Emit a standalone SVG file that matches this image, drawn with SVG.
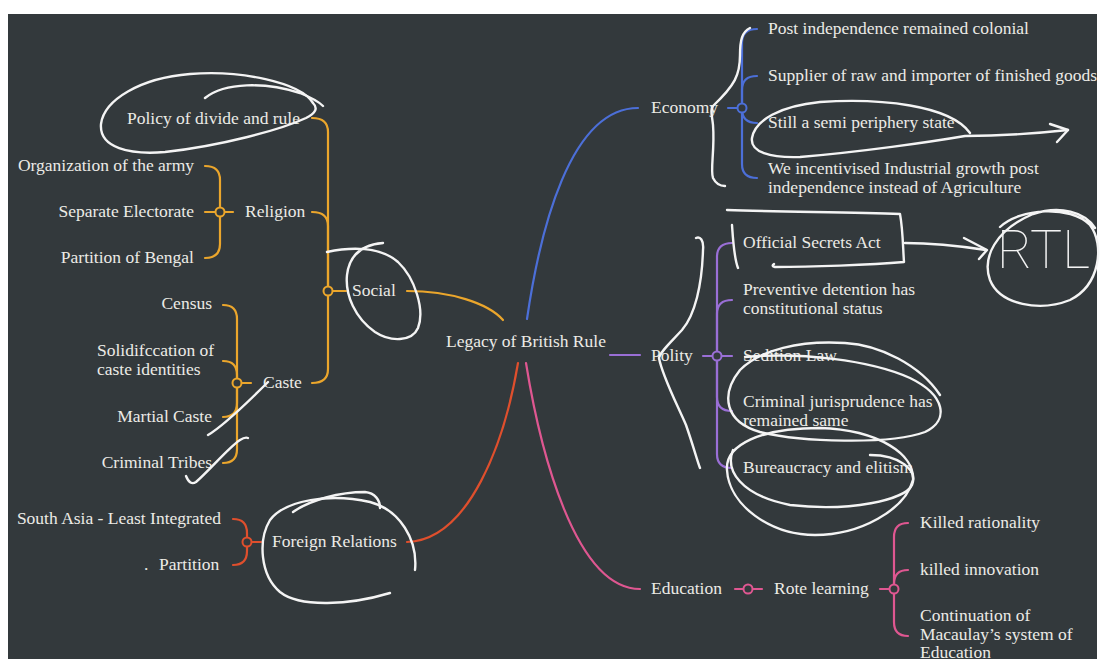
<svg xmlns="http://www.w3.org/2000/svg" width="1103" height="659" viewBox="0 0 1103 659">
  <style>
    .t { font-family: "Liberation Serif", "DejaVu Serif", serif; font-size: 17.5px; fill: #ecebe6; }
    .e { text-anchor: end; }
    .ln { fill: none; stroke-width: 2.2; stroke-linecap: round; }
    .or { stroke: #eba62c; }
    .bl { stroke: #4c6fd8; }
    .pu { stroke: #9a6fd6; }
    .rd { stroke: #df4f2d; }
    .pk { stroke: #df5791; }
    .dot { fill: #33393c; stroke-width: 2; }
    .ink { fill: none; stroke: #f4f4f4; stroke-width: 2.4; stroke-linecap: round; stroke-linejoin: round; }
  </style>
  <rect x="0" y="0" width="1103" height="659" fill="#ffffff"/>
  <rect x="8" y="14" width="1089" height="645" fill="#33393c"/>

  <!-- branch connectors -->
  <g id="connectors">
    <path class="ln or" d="M407,291 C450,291 488,303 503,320"/>
    <path class="ln bl" d="M527,319 C540,230 570,108 638,108"/>
    <path class="ln pu" d="M610,355 H640"/>
    <path class="ln rd" d="M518,363 C505,440 470,540 407,542"/>
    <path class="ln pk" d="M526,363 C540,450 575,589 640,589"/>

    <!-- Social -->
    <path class="ln or" d="M328,291 V132 Q328,118 312,118"/>
    <path class="ln or" d="M328,291 V226 Q328,212 312,212"/>
    <path class="ln or" d="M328,291 V369 Q328,383 312,383"/>
    <path class="ln or" d="M333,291 H346"/>
    <circle class="dot or" cx="328" cy="291" r="4.5"/>

    <!-- Religion -->
    <path class="ln or" d="M220,212 V180 Q220,166 205,166"/>
    <path class="ln or" d="M220,212 H205"/>
    <path class="ln or" d="M220,212 V244 Q220,258 205,258"/>
    <path class="ln or" d="M225,212 H233"/>
    <circle class="dot or" cx="220" cy="212" r="4.5"/>

    <!-- Caste -->
    <path class="ln or" d="M237,383 V319 Q237,305 223,305"/>
    <path class="ln or" d="M237,383 V375 Q237,361 223,361"/>
    <path class="ln or" d="M237,383 V403 Q237,417 223,417"/>
    <path class="ln or" d="M237,383 V449 Q237,463 223,463"/>
    <path class="ln or" d="M242,383 H251"/>
    <circle class="dot or" cx="237" cy="383" r="4.5"/>

    <!-- Foreign Relations -->
    <path class="ln rd" d="M247,542 V533 Q247,519 233,519"/>
    <path class="ln rd" d="M247,542 V551 Q247,565 233,565"/>
    <path class="ln rd" d="M252,542 H261"/>
    <circle class="dot rd" cx="247" cy="542" r="4.5"/>

    <!-- Economy -->
    <path class="ln bl" d="M742,108 V43 Q742,29 757,29"/>
    <path class="ln bl" d="M742,108 V90 Q742,76 757,76"/>
    <path class="ln bl" d="M742,108 V109 Q742,123 757,123"/>
    <path class="ln bl" d="M742,108 V164 Q742,178 757,178"/>
    <path class="ln bl" d="M728,108 H737"/>
    <circle class="dot bl" cx="742" cy="108" r="4.5"/>

    <!-- Polity -->
    <path class="ln pu" d="M717,356 V257 Q717,243 732,243"/>
    <path class="ln pu" d="M717,356 V314 Q717,300 732,300"/>
    <path class="ln pu" d="M717,356 H732"/>
    <path class="ln pu" d="M717,356 V397 Q717,411 732,411"/>
    <path class="ln pu" d="M717,356 V454 Q717,468 732,468"/>
    <path class="ln pu" d="M703,356 H712"/>
    <circle class="dot pu" cx="717" cy="356" r="4.5"/>

    <!-- Education -->
    <path class="ln pk" d="M735,589 H762"/>
    <circle class="dot pk" cx="748" cy="589" r="4.5"/>

    <!-- Rote learning -->
    <path class="ln pk" d="M894,589 V537 Q894,523 908,523"/>
    <path class="ln pk" d="M894,589 V584 Q894,570 908,570"/>
    <path class="ln pk" d="M894,589 V622 Q894,636 908,636"/>
    <path class="ln pk" d="M880,589 H889"/>
    <circle class="dot pk" cx="894" cy="589" r="4.5"/>
  </g>

  <!-- topic nodes -->
  <g id="root"><text class="t" x="446" y="347">Legacy of British Rule</text></g>

  <g id="social"><text class="t" x="352" y="296">Social</text></g>
  <g id="religion"><text class="t" x="245" y="217">Religion</text></g>
  <g id="caste"><text class="t" x="263" y="388">Caste</text></g>
  <g id="policy-divide"><text class="t e" x="300" y="124">Policy of divide and rule</text></g>
  <g id="army"><text class="t e" x="194" y="171">Organization of the army</text></g>
  <g id="electorate"><text class="t e" x="194" y="217">Separate Electorate</text></g>
  <g id="bengal"><text class="t e" x="194" y="263">Partition of Bengal</text></g>
  <g id="census"><text class="t e" x="212" y="309">Census</text></g>
  <g id="solidification"><text class="t" x="97" y="356">Solidifccation of</text><text class="t" x="97" y="375">caste identities</text></g>
  <g id="martial"><text class="t e" x="212" y="422">Martial Caste</text></g>
  <g id="tribes"><text class="t e" x="212" y="468">Criminal Tribes</text></g>

  <g id="foreign"><text class="t" x="272" y="547">Foreign Relations</text></g>
  <g id="south-asia"><text class="t e" x="221" y="524">South Asia - Least Integrated</text></g>
  <g id="partition"><text class="t" x="144" y="570">.<tspan x="159">Partition</tspan></text></g>

  <g id="economy"><text class="t" x="651" y="113">Economy</text></g>
  <g id="eco-1"><text class="t" x="768" y="34">Post independence remained colonial</text></g>
  <g id="eco-2"><text class="t" x="768" y="81">Supplier of raw and importer of finished goods</text></g>
  <g id="eco-3"><text class="t" x="768" y="128">Still a semi periphery state</text></g>
  <g id="eco-4"><text class="t" x="768" y="174">We incentivised Industrial growth post</text><text class="t" x="768" y="193">independence instead of Agriculture</text></g>

  <g id="polity"><text class="t" x="651" y="361">Polity</text></g>
  <g id="pol-1"><text class="t" x="743" y="248">Official Secrets Act</text></g>
  <g id="pol-2"><text class="t" x="743" y="295">Preventive detention has</text><text class="t" x="743" y="314">constitutional status</text></g>
  <g id="pol-3"><text class="t" x="743" y="361">Sedition Law</text></g>
  <g id="pol-4"><text class="t" x="743" y="407">Criminal jurisprudence has</text><text class="t" x="743" y="426">remained same</text></g>
  <g id="pol-5"><text class="t" x="743" y="473">Bureaucracy and elitism</text></g>

  <g id="education"><text class="t" x="651" y="594">Education</text></g>
  <g id="rote"><text class="t" x="774" y="594">Rote learning</text></g>
  <g id="edu-1"><text class="t" x="920" y="528">Killed rationality</text></g>
  <g id="edu-2"><text class="t" x="920" y="575">killed innovation</text></g>
  <g id="edu-3"><text class="t" x="920" y="621">Continuation of</text><text class="t" x="920" y="639.5">Macaulay’s system of</text><text class="t" x="920" y="658">Education</text></g>

  <!-- hand-drawn pen marks -->
  <g id="pen-marks">
    <path class="ink" d="M313,103 C300,82 240,70 190,74 C140,78 104,100 101,124 C99,148 130,155 165,152 C220,146 280,130 306,118 C316,113 318,108 313,103"/>
    <path class="ink" d="M205,98 C225,82 265,82 300,93 C310,97 318,101 323,106"/>
    <path class="ink" d="M327,252 C350,247 380,246 398,262 C415,278 425,310 418,328 C412,342 390,342 375,332 C355,318 345,295 347,275 C349,258 358,245 383,243"/>
    <path class="ink" d="M208,435 C225,425 250,400 268,382"/>
    <path class="ink" d="M186,476 Q190,486 196,482 C210,470 228,448 240,440 C243,438 246,437 248,438"/>
    <path class="ink" d="M415,570 C418,540 400,510 370,502 C330,493 285,500 270,520 C258,540 260,575 280,592 C300,608 350,605 390,593"/>
    <path class="ink" d="M293,512 C310,500 340,492 365,492 C375,493 380,500 380,508"/>

    <path class="ink" d="M750,28 C742,32 740,40 740,55 C740,75 735,85 713,106 C710,110 712,115 713,125 C715,150 710,170 713,178 C716,184 720,186 725,186"/>
    <path class="ink" d="M970,133 C950,105 880,98 820,102 C780,106 755,120 752,138 C750,152 770,158 800,157 C860,152 930,142 965,136 C1000,136 1040,133 1068,130"/>
    <path class="ink" d="M1050,124 L1068,130 L1057,142"/>

    <path class="ink" d="M727,210 C780,212 850,212 900,214 C903,230 903,250 904,262 C870,265 810,267 775,267 Q771,266 774,264"/>
    <path class="ink" d="M732,225 C733,240 734,258 738,268"/>
    <path class="ink" d="M905,243 C930,243 960,246 986,250"/>
    <path class="ink" d="M964,238 L987,250 L979,259"/>
    <path class="ink" d="M1000,227 C1020,208 1070,205 1090,225 C1105,245 1100,285 1070,300 C1040,312 1000,305 990,280 C982,258 995,230 1033,214 C1060,205 1085,212 1095,228"/>
    <text x="997" y="268" textLength="93" lengthAdjust="spacingAndGlyphs" style="font-family: Roboto, 'DejaVu Sans', sans-serif; font-weight: 100; font-size: 54px; fill: #f4f4f4;">RTL</text>

    <path class="ink" d="M696,238 C700,236 704,240 703,250 C702,285 695,315 682,330 C670,343 660,352 659,358 C662,375 675,400 686,425 C693,445 697,460 700,468"/>
    <path class="ink" d="M745,357 C800,352 870,360 910,378 C945,395 950,420 925,432 C890,445 800,442 760,432 C725,422 720,395 740,370 C760,350 800,340 845,343 C880,345 920,365 940,395"/>
    <path class="ink" d="M913,480 C915,455 880,430 820,428 C760,428 725,445 727,470 C729,505 770,535 815,535 C860,535 905,510 913,480"/>
    <path class="ink" d="M733,450 C725,470 740,495 790,505 C850,512 905,500 912,485 C918,470 900,455 870,455"/>
  </g>
</svg>
